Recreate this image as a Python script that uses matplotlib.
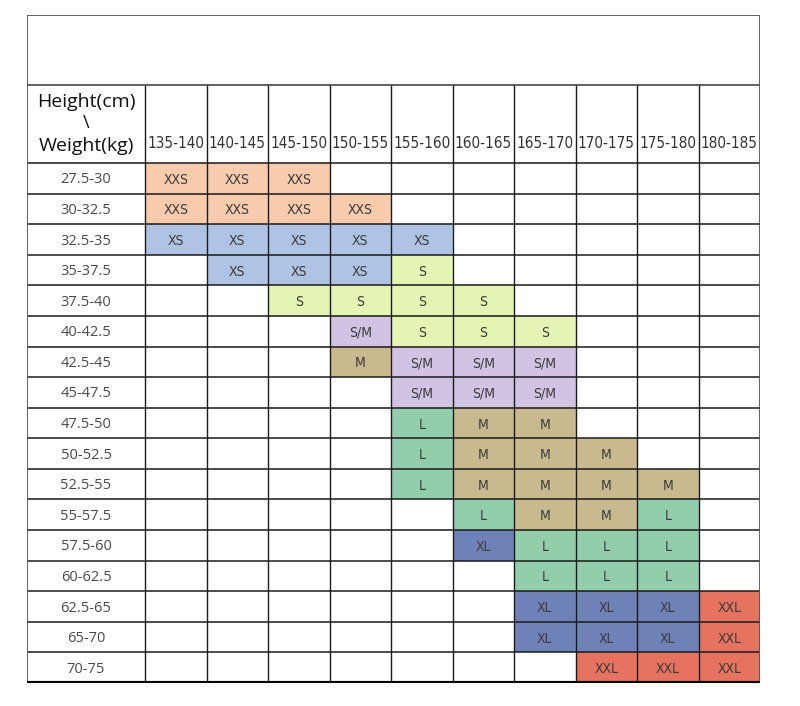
import numpy as np
import matplotlib
matplotlib.use("Agg")
import matplotlib.pyplot as plt
from matplotlib.patches import Rectangle

# Data
heights = ["135-140", "140-145", "145-150", "150-155", "155-160",
           "160-165", "165-170", "170-175", "175-180", "180-185"]
weights = ["27.5-30", "30-32.5", "32.5-35", "35-37.5", "37.5-40", "40-42.5",
           "42.5-45", "45-47.5", "47.5-50", "50-52.5", "52.5-55", "55-57.5",
           "57.5-60", "60-62.5", "62.5-65", "65-70", "70-75"]
sizes = [
    ["XXS", "XXS", "XXS", "", "", "", "", "", "", ""],
    ["XXS", "XXS", "XXS", "XXS", "", "", "", "", "", ""],
    ["XS", "XS", "XS", "XS", "XS", "", "", "", "", ""],
    ["", "XS", "XS", "XS", "S", "", "", "", "", ""],
    ["", "", "S", "S", "S", "S", "", "", "", ""],
    ["", "", "", "S/M", "S", "S", "S", "", "", ""],
    ["", "", "", "M", "S/M", "S/M", "S/M", "", "", ""],
    ["", "", "", "", "S/M", "S/M", "S/M", "", "", ""],
    ["", "", "", "", "L", "M", "M", "", "", ""],
    ["", "", "", "", "L", "M", "M", "M", "", ""],
    ["", "", "", "", "L", "M", "M", "M", "M", ""],
    ["", "", "", "", "", "L", "M", "M", "L", ""],
    ["", "", "", "", "", "XL", "L", "L", "L", ""],
    ["", "", "", "", "", "", "L", "L", "L", ""],
    ["", "", "", "", "", "", "XL", "XL", "XL", "XXL"],
    ["", "", "", "", "", "", "XL", "XL", "XL", "XXL"],
    ["", "", "", "", "", "", "", "XXL", "XXL", "XXL"],
]
size_colors = {
    "XXS": "#F8CBAD",
    "XS": "#AFC4E4",
    "S": "#E4F4B2",
    "S/M": "#D0C3E3",
    "M": "#C8B98F",
    "L": "#92CEAC",
    "XL": "#6F82B8",
    "XXL": "#E5735F",
}

# condensed face for the Calibri-like header / cell text
narrow = dict(family="DejaVu Sans", fontstretch="condensed")

# Layout in row/column units
col_w = [1.92] + [1.0] * len(heights)
row_h = [2.29, 2.55] + [1.0] * len(weights)
x_edges = np.concatenate([[0], np.cumsum(col_w)])
y_edges = np.concatenate([[0], np.cumsum(row_h)])

fig = plt.figure(figsize=(8, 7.06), dpi=100)
ax = fig.add_axes([27 / 800, 23 / 706, 733 / 800, 668 / 706])
ax.set_xlim(x_edges[0], x_edges[-1])
ax.set_ylim(y_edges[-1], y_edges[0])
ax.axis("off")

# Colored cells
for i, row in enumerate(sizes):
    y = y_edges[i + 2]
    for j, s in enumerate(row):
        x = x_edges[j + 1]
        if s:
            ax.add_patch(Rectangle((x, y), 1, 1, facecolor=size_colors[s], edgecolor="none"))
            ax.text(x + 0.5, y + 0.55, s, ha="center", va="center",
                    fontsize=10, color="#3a3a3a", **narrow)

# Row labels
for i, w in enumerate(weights):
    ax.text(x_edges[1] / 2, y_edges[i + 2] + 0.55, w, ha="center", va="center",
            fontsize=10.5, color="#4a4a4a", family="Open Sans")

# Column labels
for j, h in enumerate(heights):
    ax.text(x_edges[j + 1] + 0.5, y_edges[2] - 0.65, h, ha="center", va="center",
            fontsize=11, color="#333333", **narrow)

# Corner header
cx = x_edges[1] / 2
ax.text(cx, y_edges[1] + 0.55, "Height(cm)", ha="center", va="center",
        fontsize=14, color="#111111", family="Open Sans")
ax.text(cx, y_edges[1] + 1.25, "\\", ha="center", va="center",
        fontsize=13, color="#111111", family="Open Sans")
ax.text(cx, y_edges[1] + 2.0, "Weight(kg)", ha="center", va="center",
        fontsize=14, color="#111111", family="Open Sans")

# Grid lines
ax.hlines(y_edges[2:-1], x_edges[0], x_edges[-1], color="#1a1a1a", lw=1.1)
ax.hlines(y_edges[1], x_edges[0], x_edges[-1], color="#555555", lw=1.3)
ax.vlines(x_edges[1:-1], y_edges[1], y_edges[-1], color="#1a1a1a", lw=1.0)
ax.vlines([x_edges[0], x_edges[-1]], y_edges[0], y_edges[-1], color="#555555", lw=1.3)
ax.hlines(y_edges[0], x_edges[0], x_edges[-1], color="#555555", lw=1.3)
ax.hlines(y_edges[-1], x_edges[0], x_edges[-1], color="#000000", lw=3)

fig.savefig("out.png", dpi=100, facecolor="white")
